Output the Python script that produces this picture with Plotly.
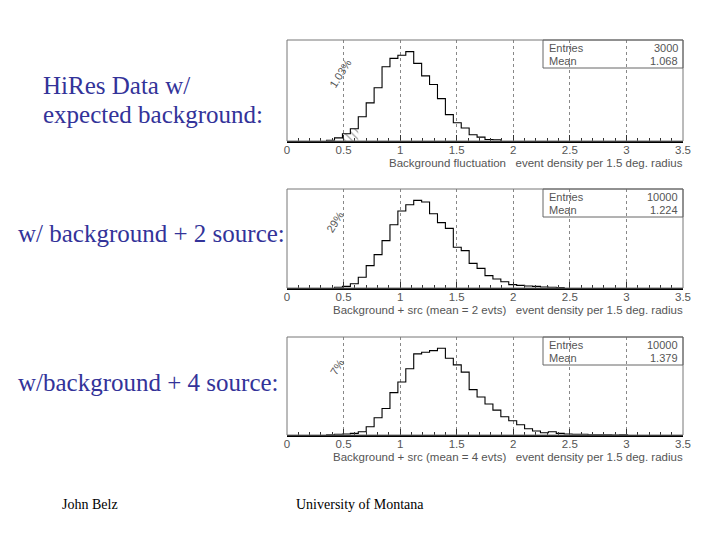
import numpy as np
import plotly.graph_objects as go

W, H = 720, 540
BIN_WIDTH = 0.07

# ---- data ----
bg_start = 0.35
bg_counts = [3, 12, 28, 47, 93, 146, 204, 284, 316, 328, 342, 297, 249, 216,
             162, 101, 70, 50, 24, 15, 6, 5]

src2_start = 0.42
src2_counts = [8, 19, 49, 122, 255, 380, 540, 722, 878, 950, 999, 980, 847, 745,
               680, 464, 426, 281, 224, 141, 103, 72, 38, 30, 23, 19, 11, 8, 4]

src4_start = 0.35
src4_counts = [3, 7, 10, 17, 34, 86, 178, 274, 438, 547, 684, 838, 855, 872,
               896, 793, 725, 650, 469, 393, 321, 257, 188, 147, 106, 65, 41, 24,
               34, 17, 10, 7, 7, 3, 3, 3, 0, 3]

hatch_range = (0.49, 0.63)   # shaded tail in the top panel

entries = ["3000", "10000", "10000"]
means = ["1.068", "1.224", "1.379"]
percent_labels = ["1.03%", "29%", "7%"]
x_titles = [
    "Background fluctuation   event density per 1.5 deg. radius",
    "Background + src (mean = 2 evts)   event density per 1.5 deg. radius",
    "Background + src (mean = 4 evts)   event density per 1.5 deg. radius",
]
x_tick_vals = [0, 0.5, 1, 1.5, 2, 2.5, 3, 3.5]
x_tick_text = ["0", "0.5", "1", "1.5", "2", "2.5", "3", "3.5"]
side_labels = [["HiRes Data w/", "expected background:"],
               ["w/ background + 2 source:"],
               ["w/background + 4 source:"]]
footer_left = "John Belz"
footer_right = "University of Montana"

# ---- layout geometry (pixels) ----
PX_L, PX_R = 287, 683
TOPS = [40, 189, 337]
BOTS = [141, 288, 435]
PAD = 2  # plotly annotation inner padding
SIDE_LABEL_POS = [[(43, 85), (43, 114)], [(18, 233)], [(18, 382)]]
PCT_POS = [(340, 74), (335, 222), (337, 367)]

TEXT_BLUE = "#333399"
AX_GREY = "#555555"
SERIF = "Liberation Serif"
SANS = "Liberation Sans"


def px(x):
    return x / W


def py(y):
    return 1 - y / H


fig = go.Figure()

datasets = [(bg_start, bg_counts), (src2_start, src2_counts), (src4_start, src4_counts)]
annotations = []
shapes = []

for i, (start, counts) in enumerate(datasets):
    n = len(counts)
    edges = np.round(start + BIN_WIDTH * np.arange(n + 1), 4)
    xs = [edges[0]] + list(edges)
    ys = [0] + list(counts) + [0]
    sfx = "" if i == 0 else str(i + 1)
    xa, ya = "x" + sfx, "y" + sfx

    if i == 0:
        lo, hi = hatch_range
        sel = [k for k in range(n) if edges[k] >= lo - 1e-9 and edges[k + 1] <= hi + 1e-9]
        hx = [edges[sel[0]], edges[sel[0]]] + [edges[k + 1] for k in sel]
        hy = [0] + [counts[k] for k in sel] + [counts[sel[-1]]]
        fig.add_trace(go.Scatter(
            x=hx, y=hy, mode="lines", line=dict(width=0, shape="hv"),
            fill="tozeroy", fillcolor="rgba(0,0,0,0)",
            fillpattern=dict(shape="\\", fgcolor="#444444", bgcolor="rgba(0,0,0,0)",
                             size=5, solidity=0.25),
            xaxis=xa, yaxis=ya, hoverinfo="skip", showlegend=False))

    fig.add_trace(go.Scatter(
        x=xs, y=ys, mode="lines", line=dict(color="black", width=1.1, shape="hv"),
        xaxis=xa, yaxis=ya, showlegend=False, hoverinfo="skip"))

    top, bot = TOPS[i], BOTS[i]
    ph = bot - top
    ymax = max(counts) * 1.13
    xdom = [px(PX_L), px(PX_R)]
    ydom = [py(bot), py(top)]

    fig.layout["xaxis" + sfx] = dict(
        domain=xdom, anchor=ya, range=[0, 3.5], tickvals=x_tick_vals, ticktext=x_tick_text,
        ticks="inside", ticklen=6, tickcolor="#333333", tickwidth=1,
        minor=dict(dtick=0.1, tick0=0, ticks="inside", ticklen=3, tickcolor="#333333",
                   showgrid=False),
        showgrid=True, gridcolor="#888888", griddash="dot", gridwidth=1,
        showline=True, linecolor="black", linewidth=1.5, zeroline=False,
        automargin=False, ticklabelstandoff=-3,
        tickfont=dict(family=SANS, size=11.5, color=AX_GREY), fixedrange=True)
    fig.layout["yaxis" + sfx] = dict(
        domain=ydom, anchor=xa, range=[0, ymax], showticklabels=False, ticks="",
        showgrid=False, zeroline=False, showline=False, fixedrange=True,
        automargin=False)

    # frame
    shapes.append(dict(type="rect", xref=xa + " domain", yref=ya + " domain",
                       x0=0, x1=1, y0=0, y1=1, line=dict(color="#777777", width=1),
                       fillcolor="rgba(0,0,0,0)", layer="above"))
    # stats box
    bw = PX_R - PX_L
    box_l = (543 - PX_L) / bw
    box_h = 28 / ph
    shapes.append(dict(type="rect", xref=xa + " domain", yref=ya + " domain",
                       x0=box_l, x1=1, y0=1 - box_h, y1=1,
                       line=dict(color="#666666", width=1), fillcolor="rgba(0,0,0,0)",
                       layer="above"))
    stat_font = dict(family=SANS, size=11, color=AX_GREY)
    for row, (lab, val) in enumerate([("Entries", entries[i]), ("Mean", means[i])]):
        yy = 1 - (8 + 13 * row) / ph
        annotations.append(dict(xref=xa + " domain", yref=ya + " domain",
                                x=(549 - PAD - PX_L) / bw, y=yy, text=lab, showarrow=False,
                                xanchor="left", yanchor="middle", font=stat_font))
        annotations.append(dict(xref=xa + " domain", yref=ya + " domain",
                                x=(678 + PAD - PX_L) / bw, y=yy, text=val, showarrow=False,
                                xanchor="right", yanchor="middle", font=stat_font))
    # x title
    annotations.append(dict(xref="paper", yref="paper", x=px(PX_R + PAD), y=py(bot + 22),
                            text=x_titles[i], showarrow=False, xanchor="right",
                            yanchor="middle", font=dict(family=SANS, size=11.5, color=AX_GREY)))
    # rotated percentage
    cx, cy = PCT_POS[i]
    annotations.append(dict(xref="paper", yref="paper", x=px(cx), y=py(cy),
                            text=percent_labels[i], showarrow=False, textangle=-58,
                            xanchor="center", yanchor="middle",
                            font=dict(family=SANS, size=11, color=AX_GREY)))
    # side labels
    for line, (lx, ly) in zip(side_labels[i], SIDE_LABEL_POS[i]):
        annotations.append(dict(xref="paper", yref="paper", x=px(lx - PAD), y=py(ly),
                                text=line, showarrow=False, xanchor="left",
                                yanchor="middle",
                                font=dict(family=SERIF, size=25, color=TEXT_BLUE)))

annotations.append(dict(xref="paper", yref="paper", x=px(62 - PAD), y=py(504),
                        text=footer_left, showarrow=False, xanchor="left", yanchor="middle",
                        font=dict(family=SERIF, size=14, color="black")))
annotations.append(dict(xref="paper", yref="paper", x=px(296 - PAD), y=py(504),
                        text=footer_right, showarrow=False, xanchor="left", yanchor="middle",
                        font=dict(family=SERIF, size=14, color="black")))

fig.update_layout(width=W, height=H, autosize=False, margin=dict(l=0, r=0, t=0, b=0),
                  paper_bgcolor="white", plot_bgcolor="rgba(0,0,0,0)",
                  showlegend=False, annotations=annotations, shapes=shapes)

fig.write_html("out.html",
               config={"responsive": False, "displayModeBar": False},
               post_script="document.body.style.margin='0';"
                           "document.body.style.overflow='hidden';")
